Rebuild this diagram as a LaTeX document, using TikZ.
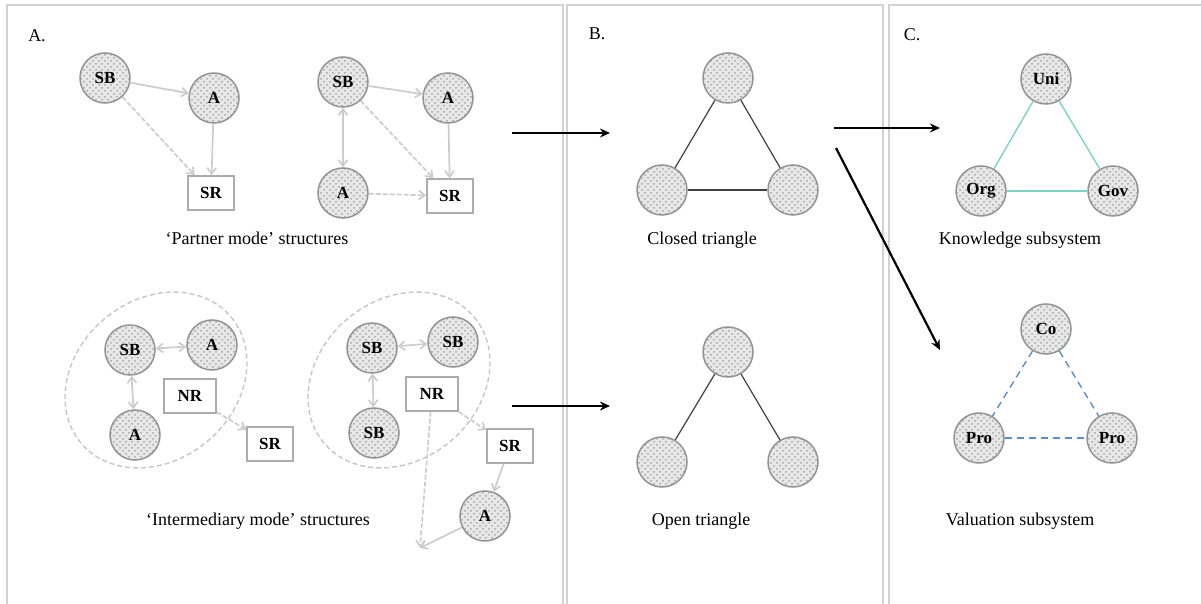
\documentclass[tikz,border=0pt]{standalone}
\usepackage{fontspec}
\setmainfont{Liberation Serif}
\usetikzlibrary{arrows.meta,positioning,patterns}

\begin{document}
\begin{tikzpicture}[x=0.5pt,y=-0.5pt,
    actor/.style={circle,draw=gray!85,line width=0.75pt,minimum size=25pt,inner sep=0pt,
                  preaction={fill=gray!18},pattern=crosshatch dots,pattern color=gray!70,
                  font=\fontsize{8.5}{10}\selectfont\bfseries},
    role/.style={draw=gray!65,line width=0.8pt,fill=white,minimum width=23pt,
                 minimum height=17pt,inner sep=1pt,font=\fontsize{8.5}{10}\selectfont\bfseries},
    tie/.style={draw=gray!40,line width=0.85pt,-{Straight Barb[length=3pt,width=4.5pt]}},
    both/.style={tie,{Straight Barb[length=3pt,width=4.5pt]}-{Straight Barb[length=3pt,width=4.5pt]}},
    weak/.style={tie,dash pattern=on 2.5pt off 1pt},
    cluster/.style={draw=gray!45,line width=0.7pt,dash pattern=on 2.5pt off 1.5pt},
    caption/.style={font=\fontsize{9}{11}\selectfont},
    frame/.style={draw=gray!35,line width=0.9pt},
    move/.style={draw=black,line width=1.1pt,-{Stealth[length=5pt,width=4.5pt]}},
    link/.style={draw=black!75,line width=0.6pt}]
  \useasboundingbox (0,0) rectangle (1201,604);

  % panels
  \draw[frame] (7,604) -- (7,5) -- (563,5) -- (563,604);
  \draw[frame] (567,604) -- (567,5) -- (883,5) -- (883,604);
  \draw[frame] (889,604) -- (889,5) -- (1201,5);
  \node[caption] (labA) at (37,36) {A.};
  \node[caption] (labB) at (597,34) {B.};
  \node[caption] (labC) at (912,35) {C.};

  % A: partner mode
  \node[actor] (sb1) at (105,78)  {SB};
  \node[actor] (a1)  at (214,98)  {A};
  \node[role]  (sr1) at (211,193) {SR};
  \node[actor] (sb2) at (343,82)  {SB};
  \node[actor] (a2)  at (448,98)  {A};
  \node[actor] (a3)  at (343,193) {A};
  \node[role]  (sr2) at (450,196) {SR};
  \path (sb1) edge[tie]  (a1)
        (sb1) edge[weak] (sr1)
        (a1)  edge[tie]  (sr1)
        (sb2) edge[tie]  (a2)
        (sb2) edge[both] (a3)
        (sb2) edge[weak] (sr2)
        (a2)  edge[tie]  (sr2)
        (a3)  edge[weak] (sr2);
  \node[caption] (capPartner) at (257,238) {`Partner mode' structures};

  % A: intermediary mode
  \draw[cluster,rotate around={40:(156,380)}] (156,380) ellipse [x radius=98,y radius=80];
  \draw[cluster,rotate around={40:(399,380)}] (399,380) ellipse [x radius=98,y radius=80];
  \node[actor] (sb3) at (130,350) {SB};
  \node[actor] (a4)  at (212,345) {A};
  \node[actor] (a5)  at (135,435) {A};
  \node[role,minimum width=26pt] (nr1) at (190,396) {NR};
  \node[role]  (sr3) at (270,444) {SR};
  \node[actor] (sb4) at (372,348) {SB};
  \node[actor] (sb5) at (453,342) {SB};
  \node[actor] (sb6) at (374,433) {SB};
  \node[role,minimum width=26pt] (nr2) at (432,394) {NR};
  \node[role]  (sr4) at (510,446) {SR};
  \node[actor] (a6)  at (485,516) {A};
  \coordinate (meet) at (420,548);
  \path (sb3) edge[both] (a4)
        (sb3) edge[both] (a5)
        (nr1) edge[weak] (sr3)
        (sb4) edge[both] (sb5)
        (sb4) edge[both] (sb6)
        (nr2) edge[weak] (sr4)
        (sr4) edge[tie]  (a6)
        (nr2) edge[weak] (meet)
        (a6)  edge[tie]  (meet);
  \node[caption] (capInter) at (258,521) {`Intermediary mode' structures};

  % B: triangles
  \node[actor] (t1) at (728,78)  {};
  \node[actor] (t2) at (662,190) {};
  \node[actor] (t3) at (793,190) {};
  \path[link] (t1) edge (t2) (t1) edge (t3) (t2) edge (t3);
  \node[caption] (capClosed) at (702,240) {Closed triangle};
  \node[actor] (o1) at (728,352) {};
  \node[actor] (o2) at (662,462) {};
  \node[actor] (o3) at (793,462) {};
  \path[link] (o1) edge (o2) (o1) edge (o3);
  \node[caption] (capOpen) at (701,521) {Open triangle};

  % C: subsystems
  \definecolor{knowgreen}{RGB}{122,214,190}
  \definecolor{valblue}{RGB}{92,142,198}
  \node[actor] (uni) at (1046,79)  {Uni};
  \node[actor] (org) at (981,191)  {Org};
  \node[actor] (gov) at (1113,191) {Gov};
  \path[draw=knowgreen,line width=0.7pt] (uni) edge (org) (uni) edge (gov) (org) edge (gov);
  \node[caption] (capKnow) at (1020,240) {Knowledge subsystem};
  \node[actor] (co)   at (1046,329) {Co};
  \node[actor] (pro1) at (979,438)  {Pro};
  \node[actor] (pro2) at (1112,438) {Pro};
  \path[draw=valblue,line width=0.7pt,dash pattern=on 3.5pt off 2.5pt]
        (co) edge (pro1) (co) edge (pro2) (pro1) edge (pro2);
  \node[caption] (capVal) at (1020,521) {Valuation subsystem};

  % arrows between panels
  \coordinate (p1) at (512,133);  \coordinate (q1) at (610,133);
  \coordinate (p2) at (512,406);  \coordinate (q2) at (610,406);
  \coordinate (p3) at (834,128);  \coordinate (q3) at (940,128);
  \coordinate (p4) at (836,148);  \coordinate (q4) at (940,350);
  \path (p1) edge[move] (q1) (p2) edge[move] (q2)
        (p3) edge[move] (q3) (p4) edge[move] (q4);
\end{tikzpicture}
\end{document}
